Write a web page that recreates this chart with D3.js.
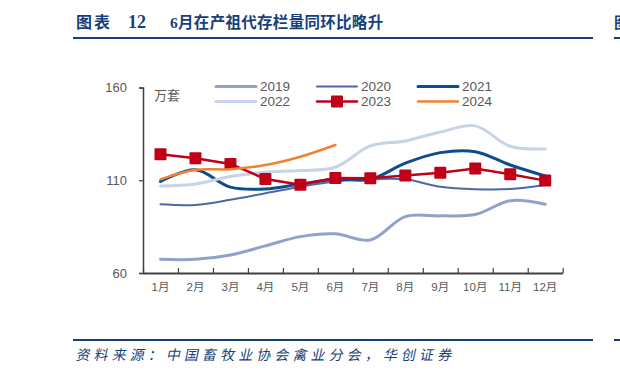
<!DOCTYPE html>
<html>
<head>
<meta charset="utf-8">
<script src="https://cdn.jsdelivr.net/npm/d3@7"></script>
<style>
  body { margin: 0; background: #fff; overflow: hidden; }
  svg { display: block; }
</style>
</head>
<body>
<script>
// Data (万套)
const months = ["1月", "2月", "3月", "4月", "5月", "6月", "7月", "8月", "9月", "10月", "11月", "12月"];
const yTicks = [60, 110, 160];

const v2019 = [67.4, 67.4, 69.7, 74.6, 79.6, 81.1, 77.8, 90.4, 90.8, 91.5, 99, 97.1];
const v2020 = [97, 96.7, 99.5, 103, 106.5, 109.3, 110.5, 110.5, 106.5, 105.2, 105.3, 107.5];
const v2021 = [109.3, 115.6, 106.3, 105.3, 108, 110.5, 110.5, 119.2, 124.9, 125.4, 118.2, 112.3];
const v2022 = [106.9, 108, 112, 114.3, 115.2, 117, 128.5, 131.2, 136, 139.3, 128.3, 126.9];
const v2023 = [124, 121.9, 118.8, 110.7, 107.6, 111.2, 111.1, 112.5, 114.1, 116.3, 113.2, 109.8];
const v2024 = [110.5, 115.6, 115.9, 118.2, 122.7, 129];

const series = [
    { name: "2019", values: v2019, color: "#8fa2cc", width: 3 },
    { name: "2020", values: v2020, color: "#4a69a6", width: 2 },
    { name: "2021", values: v2021, color: "#0b4d8e", width: 3 },
    { name: "2022", values: v2022, color: "#c9d3e8", width: 3 },
    { name: "2023", values: v2023, color: "#c00018", width: 2.5, marker: true },
    { name: "2024", values: v2024, color: "#f08232", width: 2.5 }
];

const W = 620, H = 377;
const navy = "#173f7a";
const grey = "#595959";

const svg = d3.select("body").append("svg")
    .attr("width", W)
    .attr("height", H);

// Title + rules
svg.append("text")
    .attr("x", 76).attr("y", 28)
    .attr("fill", navy)
    .attr("font-family", "'Noto Sans CJK SC', sans-serif")
    .attr("font-weight", 700)
    .attr("font-size", 16)
    .attr("letter-spacing", 2)
    .text("图表");
svg.append("text")
    .attr("x", 128).attr("y", 28)
    .attr("fill", navy)
    .attr("font-family", "'Liberation Serif', serif")
    .attr("font-weight", 700)
    .attr("font-size", 18)
    .text("12");
svg.append("text")
    .attr("x", 170).attr("y", 28)
    .attr("fill", navy)
    .attr("font-family", "'Liberation Serif', 'Noto Sans CJK SC', serif")
    .attr("font-weight", 700)
    .attr("font-size", 15.5)
    .attr("letter-spacing", 0.3)
    .text("6月在产祖代存栏量同环比略升");

svg.append("line")
    .attr("x1", 73).attr("x2", 593)
    .attr("y1", 38).attr("y2", 38)
    .attr("stroke", navy).attr("stroke-width", 2);
svg.append("line")
    .attr("x1", 73).attr("x2", 593)
    .attr("y1", 340).attr("y2", 340)
    .attr("stroke", navy).attr("stroke-width", 2);

// fragment of the next column at the right edge
svg.append("text")
    .attr("x", 614).attr("y", 28)
    .attr("fill", navy)
    .attr("font-family", "'Noto Sans CJK SC', sans-serif")
    .attr("font-weight", 700)
    .attr("font-size", 15)
    .text("图");
svg.append("line")
    .attr("x1", 614).attr("x2", 620)
    .attr("y1", 38).attr("y2", 38)
    .attr("stroke", navy).attr("stroke-width", 2);
svg.append("line")
    .attr("x1", 614).attr("x2", 620)
    .attr("y1", 340).attr("y2", 340)
    .attr("stroke", navy).attr("stroke-width", 2);

// Source
svg.append("text")
    .attr("x", 76).attr("y", 360)
    .attr("fill", navy)
    .attr("font-family", "'Noto Sans CJK SC', sans-serif")
    .attr("font-size", 14)
    .attr("letter-spacing", 4.1)
    .attr("transform", "skewX(-12) translate(76,0)")
    .text("资料来源：中国畜牧业协会禽业分会，华创证券");

// Scales
const x0 = 143, x1 = 562.7;
const xBand = d3.scaleBand().domain(months).range([x0, x1]).padding(0);
const xEdge = d3.scaleLinear().domain([0, 12]).range([x0, x1]);
const y = d3.scaleLinear().domain([60, 160]).range([273, 87.5]);
const cx = m => xBand(m) + xBand.bandwidth() / 2;

// Y axis
const yAxis = svg.append("g")
    .attr("transform", `translate(${x0},0)`)
    .call(d3.axisLeft(y).tickValues(yTicks).tickSize(4).tickPadding(12));
yAxis.select(".domain").attr("stroke", "#404040").attr("stroke-width", 1.5);
yAxis.selectAll(".tick line").attr("stroke", "#404040").attr("stroke-width", 1.2);
yAxis.selectAll(".tick text")
    .attr("fill", grey)
    .attr("font-family", "'Liberation Sans', Arial, sans-serif")
    .attr("font-size", 13);

// X axis: ticks at band edges, labels at centres
const xTicks = svg.append("g")
    .attr("transform", `translate(0,${y(60)})`)
    .call(d3.axisBottom(xEdge).ticks(12).tickSize(-5).tickSizeOuter(0).tickFormat(""));
xTicks.select(".domain").attr("stroke", "#404040").attr("stroke-width", 2);
xTicks.selectAll(".tick line").attr("stroke", "#404040").attr("stroke-width", 1.2);

const xLabels = svg.append("g")
    .attr("transform", `translate(0,${y(60)})`)
    .call(d3.axisBottom(xBand).tickSize(0).tickPadding(10));
xLabels.select(".domain").remove();
xLabels.selectAll(".tick text")
    .attr("fill", grey)
    .attr("font-family", "'Liberation Sans', 'Noto Sans CJK SC', sans-serif")
    .attr("font-size", 11.5);

// Unit label
svg.append("text")
    .attr("x", 154).attr("y", 100)
    .attr("fill", grey)
    .attr("font-family", "'Noto Sans CJK SC', sans-serif")
    .attr("font-size", 13)
    .text("万套");

// Lines
const line = d3.line()
    .x(d => cx(d.m))
    .y(d => y(d.v))
    .curve(d3.curveCatmullRom.alpha(0.5));
const straight = d3.line()
    .x(d => cx(d.m))
    .y(d => y(d.v));

series.forEach(s => {
    const pts = s.values.map((v, i) => ({ m: months[i], v }));
    svg.append("path")
        .datum(pts)
        .attr("fill", "none")
        .attr("stroke", s.color)
        .attr("stroke-width", s.width)
        .attr("stroke-linecap", "round")
        .attr("d", s.marker ? straight(pts) : line(pts));
    if (s.marker) {
        svg.append("g").selectAll("rect")
            .data(pts)
            .join("rect")
            .attr("x", d => cx(d.m) - 6)
            .attr("y", d => y(d.v) - 6)
            .attr("width", 12)
            .attr("height", 12)
            .attr("rx", 1)
            .attr("fill", s.color);
    }
});

// Legend
const legendCols = [216, 317, 418];
const legendRows = [86.5, 101.5];
const legend = svg.append("g");
series.forEach((s, i) => {
    const lx = legendCols[i % 3];
    const ly = legendRows[Math.floor(i / 3)];
    legend.append("line")
        .attr("x1", lx).attr("x2", lx + 40)
        .attr("y1", ly).attr("y2", ly)
        .attr("stroke", s.color)
        .attr("stroke-width", s.width)
        .attr("stroke-linecap", "round");
    if (s.marker) {
        legend.append("rect")
            .attr("x", lx + 14).attr("y", ly - 6)
            .attr("width", 12).attr("height", 12)
            .attr("rx", 1)
            .attr("fill", s.color);
    }
    legend.append("text")
        .attr("x", lx + 44).attr("y", ly + 4.5)
        .attr("fill", grey)
        .attr("font-family", "'Liberation Sans', Arial, sans-serif")
        .attr("font-size", 13.5)
        .text(s.name);
});
</script>
</body>
</html>
